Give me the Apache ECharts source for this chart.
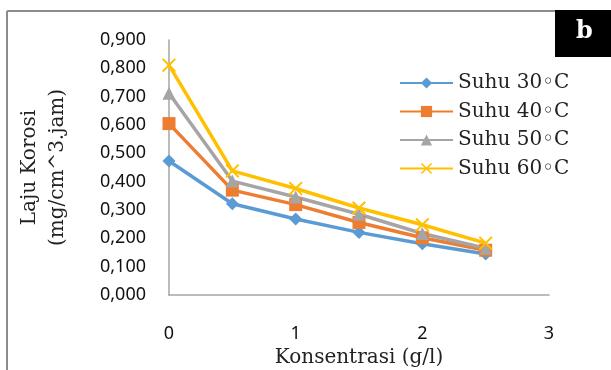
<!DOCTYPE html>
<html>
<head>
<meta charset="utf-8">
<script src="https://cdn.jsdelivr.net/npm/echarts@6/dist/echarts.min.js"></script>
<style>
  html, body { margin: 0; padding: 0; background: #fff; }
  #chart { width: 611px; height: 370px; }
</style>
</head>
<body>
<div id="chart"></div>
<script>
// concentration (g/l)
const konsentrasi = [0, 0.5, 1, 1.5, 2, 2.5];
// corrosion rate per temperature
const suhu30 = [0.473, 0.322, 0.268, 0.221, 0.181, 0.145];
const suhu40 = [0.605, 0.370, 0.319, 0.256, 0.202, 0.158];
const suhu50 = [0.712, 0.402, 0.346, 0.285, 0.217, 0.165];
const suhu60 = [0.811, 0.438, 0.376, 0.307, 0.248, 0.183];
const seriesNames = ['Suhu 30\u25E6C', 'Suhu 40\u25E6C', 'Suhu 50\u25E6C', 'Suhu 60\u25E6C'];
const xTicks = [0, 1, 2, 3];

const serif = 'DejaVu Serif';
const sans = 'Noto Sans';

function pairs(ys) {
  return konsentrasi.map((x, i) => [x, ys[i]]);
}

const crossPath = 'path://M0,1L1,0L5,4L9,0L10,1L6,5L10,9L9,10L5,6L1,10L0,9L4,5Z';

let chart = echarts.init(document.getElementById('chart'));
chart.setOption({
  animation: false,
  grid: { left: 169, right: 62, top: 40, bottom: 75, containLabel: false, outerBoundsMode: 'none' },
  color: ['#5B9BD5', '#ED7D31', '#A5A5A5', '#FFC000'],
  legend: {
    orient: 'vertical',
    left: 394,
    top: 68,
    itemWidth: 53,
    itemHeight: 14,
    itemGap: 8.5,
    data: seriesNames,
    textStyle: { fontFamily: serif, fontSize: 20, color: '#222', lineHeight: 20 }
  },
  xAxis: {
    type: 'value',
    min: xTicks[0],
    max: xTicks[xTicks.length - 1],
    interval: 1,
    name: 'Konsentrasi (g/l)',
    nameLocation: 'middle',
    nameGap: 52,
    nameTextStyle: { fontFamily: serif, fontSize: 20, color: '#222' },
    axisLine: { lineStyle: { color: '#A6A6A6', width: 1.5 } },
    axisTick: { show: false },
    splitLine: { show: false },
    axisLabel: { margin: 30, fontFamily: sans, fontSize: 18, color: '#111' }
  },
  yAxis: {
    type: 'value',
    min: 0,
    max: 0.9,
    interval: 0.1,
    name: 'Laju Korosi\n(mg/cm^3.jam)',
    nameLocation: 'middle',
    nameRotate: 90,
    nameGap: 97,
    nameTextStyle: { fontFamily: serif, fontSize: 20, color: '#222', lineHeight: 28 },
    axisLine: { show: true, lineStyle: { color: '#A6A6A6', width: 1.5 } },
    axisTick: { show: false },
    splitLine: { show: false },
    axisLabel: {
      margin: 23,
      fontFamily: sans,
      fontSize: 18,
      color: '#111',
      formatter: v => v.toFixed(3).replace('.', ',')
    }
  },
  graphic: [
    { type: 'line', shape: { x1: 7, y1: 11, x2: 7, y2: 370 }, style: { stroke: '#8C8C8C', lineWidth: 2 } },
    { type: 'line', shape: { x1: 7, y1: 11, x2: 556, y2: 11 }, style: { stroke: '#8C8C8C', lineWidth: 2 } },
    { type: 'rect', shape: { x: 555, y: 10, width: 56, height: 47 }, style: { fill: '#000' } },
    { type: 'text', left: 576, top: 20, style: { text: 'b', fill: '#fff', font: 'bold 24px "DejaVu Serif"' } }
  ],
  series: [
    { name: seriesNames[0], type: 'line', data: pairs(suhu30), symbol: 'diamond', symbolSize: 13, lineStyle: { width: 3.5 } },
    { name: seriesNames[1], type: 'line', data: pairs(suhu40), symbol: 'rect', symbolSize: 13, lineStyle: { width: 3.5 } },
    { name: seriesNames[2], type: 'line', data: pairs(suhu50), symbol: 'triangle', symbolSize: 13, lineStyle: { width: 3.5 } },
    { name: seriesNames[3], type: 'line', data: pairs(suhu60), symbol: crossPath, symbolSize: 14, lineStyle: { width: 3.5 } }
  ]
});
</script>
</body>
</html>
